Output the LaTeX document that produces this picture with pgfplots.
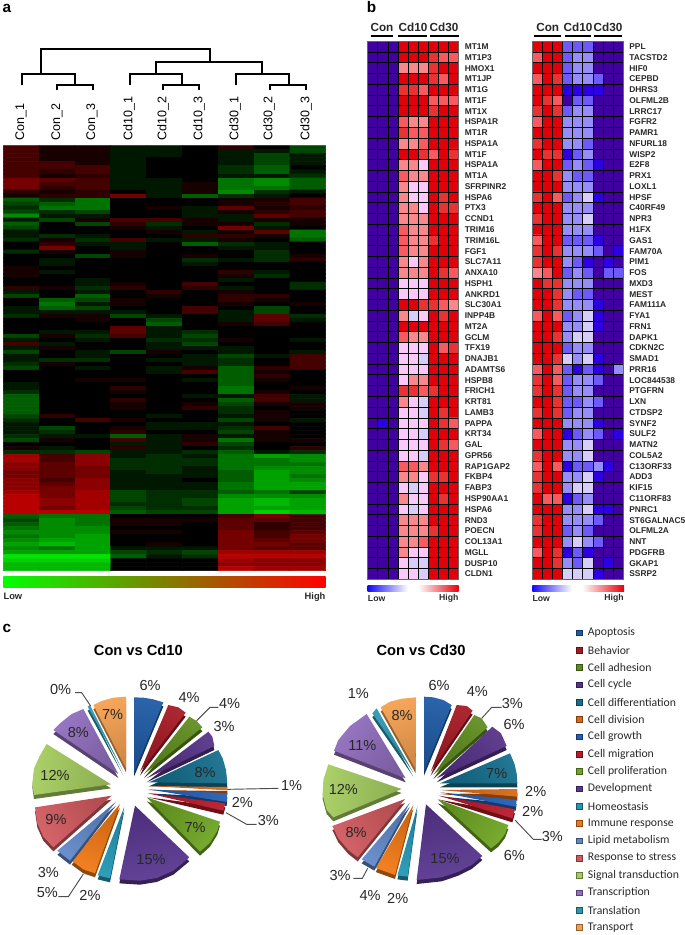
\documentclass[border=0pt]{standalone}
\usepackage{fontspec}
\setmainfont{Liberation Sans}
\newfontfamily\legfont{Carlito}
\usepackage{pgfplots}
\pgfplotsset{compat=1.18}
\definecolor{c1}{RGB}{30,90,165}
\definecolor{c2}{RGB}{165,25,35}
\definecolor{c3}{RGB}{95,140,30}
\definecolor{c4}{RGB}{85,50,135}
\definecolor{c5}{RGB}{20,110,140}
\definecolor{c6}{RGB}{215,105,25}
\definecolor{c7}{RGB}{35,95,180}
\definecolor{c8}{RGB}{185,25,40}
\definecolor{c9}{RGB}{110,165,35}
\definecolor{c10}{RGB}{90,55,145}
\definecolor{c11}{RGB}{35,150,180}
\definecolor{c12}{RGB}{240,120,20}
\definecolor{c13}{RGB}{95,135,200}
\definecolor{c14}{RGB}{210,90,95}
\definecolor{c15}{RGB}{165,205,95}
\definecolor{c16}{RGB}{145,110,190}
\definecolor{c17}{RGB}{45,150,175}
\definecolor{c18}{RGB}{245,160,80}
\definecolor{txt}{RGB}{40,40,40}
\pgfplotsset{
  colormap={gbr}{rgb255=(0,255,0) rgb255=(0,0,0) rgb255=(255,0,0)},
  colormap={bwr}{rgb255=(65,0,160) rgb255=(45,0,225) rgb255=(110,90,250) rgb255=(150,140,250) rgb255=(215,205,250)
    rgb255=(250,200,250) rgb255=(250,135,140) rgb255=(250,90,95) rgb255=(235,50,50) rgb255=(225,0,10)},
  pxaxis/.style={hide axis, scale only axis, y dir=reverse, clip=false, anchor=north west},
  genes/.style={scale only axis, y dir=reverse, anchor=north west, width=68.25pt, height=403.5pt,
    xmin=-0.5, xmax=8.5, ymin=-0.5, ymax=49.5, xtick={-0.5,0.5,...,8.5}, xticklabels={}, ytick={0,...,49}, yticklabel pos=right,
    minor ytick={-0.5,0.5,...,49.5}, xmajorgrids, yminorgrids,
    major grid style={black, line width=0.6pt}, minor grid style={black, line width=0.6pt}, axis on top,
    major tick length=0pt, minor tick length=0pt, axis line style={draw=black!60, line width=0.6pt}, colormap name=bwr,
    point meta min=0, point meta max=9,
    yticklabel style={font=\fontsize{6.3}{7}\selectfont\bfseries, text=txt, xshift=1pt}},
  genecells/.style={matrix plot*, mesh/cols=9, point meta=\thisrowno{0}},
}
\newcommand{\wedgeplot}[3]{%
  \addplot[draw=none, fill=#1!60!black, yshift=-3pt, forget plot] coordinates {#3};
  \addplot[draw=none, top color=#1!94!white, bottom color=#1!85!black, shading angle=#2, forget plot] coordinates {#3};
}
\newcommand{\pct}[3]{\node[font=\fontsize{10.9}{12}\selectfont, text=txt] at (axis cs:#1,#2) {#3\%};}
\newcommand{\leg}[3]{%
  \addplot[only marks, mark=square*, mark size=2.1pt, mark options={fill=#2, draw=#2!60!black}, forget plot] coordinates {(883,#1)};
  \node[anchor=west, text=txt, inner sep=0pt, font=\legfont\fontsize{8.8}{11}\selectfont] at (axis cs:908,#1) {#3};
}
\newcommand{\keyfont}{\fontsize{6.5}{8}\selectfont\bfseries}
\newcommand{\hdrfont}{\fontsize{8.8}{10}\selectfont\bfseries}
\newcommand{\sample}[2]{\node[rotate=90, anchor=west, inner sep=0pt, font=\fontsize{9.4}{11}\selectfont] at (axis cs:#1,141) {#2};}
\begin{document}
\begin{tikzpicture}
\useasboundingbox (0,0) rectangle (513.75pt,-701.25pt);

% base layer, in image pixels: dendrogram, labels
\begin{axis}[pxaxis, at={(0,0)}, width=513.75pt, height=701.25pt, xmin=0, xmax=685, ymin=0, ymax=935]
\addplot[black, line width=1.5pt, forget plot] coordinates {(22,85.3) (22,74) (75.3,74) (75.3,85.3)};
\addplot[black, line width=1.5pt, forget plot] coordinates {(57,90) (57,85.3) (92.7,85.3) (92.7,90)};
\addplot[black, line width=1.5pt, forget plot] coordinates {(41,74) (41,48.7) (210.3,48.7) (210.3,62)};
\addplot[black, line width=1.5pt, forget plot] coordinates {(155.7,74) (155.7,62) (262.3,62) (262.3,74)};
\addplot[black, line width=1.5pt, forget plot] coordinates {(129.7,85.3) (129.7,74) (181.7,74) (181.7,85.3)};
\addplot[black, line width=1.5pt, forget plot] coordinates {(163.3,90) (163.3,85.3) (199,85.3) (199,90)};
\addplot[black, line width=1.5pt, forget plot] coordinates {(235.7,85.3) (235.7,74) (288.7,74) (288.7,85.3)};
\addplot[black, line width=1.5pt, forget plot] coordinates {(270.3,90) (270.3,85.3) (306,85.3) (306,90)};
\sample{21}{Con\_1}\sample{57}{Con\_2}\sample{92}{Con\_3}
\sample{129}{Cd10\_1}\sample{163}{Cd10\_2}\sample{199}{Cd10\_3}
\sample{235}{Cd30\_1}\sample{269}{Cd30\_2}\sample{306}{Cd30\_3}
\node[font=\fontsize{11.5}{13}\selectfont\bfseries] at (axis cs:7,8) {a};
\node[font=\fontsize{11.5}{13}\selectfont\bfseries] at (axis cs:371.5,7) {b};
\node[font=\fontsize{11.5}{13}\selectfont\bfseries] at (axis cs:7,628) {c};
\node[anchor=west, text=txt, font=\fontsize{7}{8}\selectfont\bfseries, inner sep=0pt] at (axis cs:3.3,596.7) {Low};
\node[anchor=east, text=txt, font=\fontsize{7}{8}\selectfont\bfseries, inner sep=0pt] at (axis cs:325.7,596.7) {High};
% colour keys
\addplot[draw=none, left color={rgb,255:red,0;green,255;blue,0}, middle color={rgb,255:red,125;green,125;blue,0}, right color={rgb,255:red,255;green,0;blue,0}, forget plot] coordinates {(3.3,576.7) (325.7,576.7) (325.7,587.7) (3.3,587.7)};
\addplot[draw=none, left color={rgb,255:red,20;green,10;blue,250}, right color=white, forget plot] coordinates {(367.7,585) (408,585) (408,591.7) (367.7,591.7)};
\addplot[draw=none, left color=white, right color={rgb,255:red,230;green,0;blue,10}, forget plot] coordinates {(418,585) (458.7,585) (458.7,591.7) (418,591.7)};
\addplot[draw=none, left color={rgb,255:red,20;green,10;blue,250}, right color=white, forget plot] coordinates {(532.3,585) (572,585) (572,591.7) (532.3,591.7)};
\addplot[draw=none, left color=white, right color={rgb,255:red,230;green,0;blue,10}, forget plot] coordinates {(582,585) (624,585) (624,591.7) (582,591.7)};
\node[anchor=west, text=txt, font=\keyfont, inner sep=0pt] at (axis cs:367.7,598.7) {Low};
\node[anchor=east, text=txt, font=\keyfont, inner sep=0pt] at (axis cs:458.7,598.7) {High};
\node[anchor=west, text=txt, font=\keyfont, inner sep=0pt] at (axis cs:532.3,598.7) {Low};
\node[anchor=east, text=txt, font=\keyfont, inner sep=0pt] at (axis cs:624,598.7) {High};
% group headers of panel b
\addplot[black, line width=1.3pt, forget plot] coordinates {(370.7,36) (393.3,36)};
\addplot[black, line width=1.3pt, forget plot] coordinates {(398.3,36) (427.3,36)};
\addplot[black, line width=1.3pt, forget plot] coordinates {(430,36) (458.7,36)};
\addplot[black, line width=1.3pt, forget plot] coordinates {(534.3,36) (561,36)};
\addplot[black, line width=1.3pt, forget plot] coordinates {(565,36) (590.7,36)};
\addplot[black, line width=1.3pt, forget plot] coordinates {(594,36) (621.7,36)};
\node[font=\hdrfont, text=txt] at (axis cs:382,27.3) {Con};
\node[font=\hdrfont, text=txt] at (axis cs:413,27.3) {Cd10};
\node[font=\hdrfont, text=txt] at (axis cs:444,27.3) {Cd30};
\node[font=\hdrfont, text=txt] at (axis cs:547.7,27.3) {Con};
\node[font=\hdrfont, text=txt] at (axis cs:578,27.3) {Cd10};
\node[font=\hdrfont, text=txt] at (axis cs:608,27.3) {Cd30};
\end{axis}

% panel a heat map: one line per gene cluster row, values -9 (green) .. 9 (red)
\begin{axis}[pxaxis, at={(2.475pt,-109.275pt)}, width=241.8pt, height=318.7pt, xmin=-0.5, xmax=8.5, ymin=-0.5, ymax=105.5,
  colormap name=gbr, point meta min=-11, point meta max=11]
\addplot[matrix plot*, mesh/cols=9, point meta=\thisrowno{0}] table[row sep=crcr, header=false, x expr={mod(\coordindex,9)}, y expr={floor((\coordindex+0.5)/9)}] {
3\\1\\1\\-1\\-1\\0\\2\\0\\-3\\
3\\1\\1\\-1\\-1\\0\\-1\\-1\\-3\\
3\\1\\1\\-1\\-1\\0\\-1\\-3\\-1\\
3\\1\\1\\-1\\0\\0\\-1\\-3\\-1\\
3\\3\\1\\-1\\0\\0\\-1\\-3\\-1\\
3\\3\\3\\-1\\0\\0\\-2\\-4\\0\\
3\\2\\3\\-1\\0\\0\\-2\\-4\\-1\\
3\\1\\2\\-1\\0\\0\\-1\\-1\\-2\\
5\\4\\3\\-1\\-1\\0\\-5\\-6\\-4\\
5\\3\\3\\-1\\-1\\1\\-5\\-6\\-4\\
5\\2\\3\\-1\\-1\\1\\-5\\-5\\-4\\
2\\1\\2\\0\\-1\\1\\-6\\-2\\-1\\
1\\2\\2\\5\\-1\\-4\\-2\\-1\\0\\
-4\\-2\\-5\\0\\0\\0\\1\\1\\3\\
-3\\-4\\-5\\0\\0\\0\\1\\2\\3\\
-2\\-5\\-5\\0\\1\\-1\\4\\1\\2\\
-3\\-2\\-3\\0\\0\\-1\\1\\2\\3\\
-6\\-1\\-1\\0\\0\\-1\\-1\\4\\3\\
-1\\-3\\1\\3\\3\\1\\-1\\1\\1\\
-4\\0\\-3\\2\\-2\\1\\1\\-2\\1\\
-3\\0\\0\\1\\-1\\0\\5\\-1\\0\\
-1\\0\\0\\0\\1\\-1\\1\\4\\-5\\
-1\\-2\\-1\\0\\0\\2\\2\\1\\-5\\
-2\\1\\-2\\3\\-1\\-1\\1\\0\\-4\\
0\\2\\-1\\-1\\0\\-4\\-2\\-1\\0\\
0\\5\\0\\-1\\0\\0\\-1\\-1\\0\\
-2\\1\\0\\1\\0\\0\\0\\-2\\0\\
0\\0\\-3\\1\\0\\1\\0\\-2\\1\\
0\\-1\\0\\0\\0\\-2\\-1\\-2\\2\\
0\\-1\\0\\0\\0\\-1\\0\\0\\0\\
1\\0\\0\\0\\0\\0\\0\\0\\0\\
1\\-1\\0\\0\\0\\0\\2\\-1\\0\\
1\\0\\0\\0\\0\\0\\1\\-2\\0\\
0\\0\\-1\\0\\0\\0\\-1\\0\\0\\
0\\0\\-1\\1\\0\\3\\0\\0\\-2\\
2\\1\\-2\\2\\0\\2\\-1\\0\\-2\\
-1\\0\\-1\\0\\2\\0\\1\\0\\0\\
-3\\0\\-4\\0\\1\\0\\2\\2\\0\\
0\\-4\\-3\\1\\0\\0\\2\\1\\0\\
0\\-5\\-1\\1\\0\\0\\1\\0\\1\\
-1\\-4\\-3\\0\\0\\3\\0\\-3\\0\\
-1\\-1\\-1\\-1\\0\\3\\-1\\-3\\0\\
-2\\1\\1\\-3\\-1\\0\\-1\\4\\-2\\
0\\0\\1\\0\\-3\\0\\-1\\4\\-1\\
0\\0\\0\\0\\-4\\0\\1\\3\\0\\
0\\0\\0\\4\\-1\\0\\0\\0\\0\\
0\\-1\\-1\\4\\-1\\-2\\0\\0\\0\\
-3\\1\\-2\\3\\-1\\-3\\0\\0\\0\\
-1\\0\\-1\\0\\-2\\-2\\1\\0\\-1\\
3\\-1\\0\\0\\-1\\-3\\0\\0\\0\\
-1\\1\\0\\0\\-1\\-1\\-1\\0\\0\\
-3\\0\\-1\\-3\\1\\0\\-1\\0\\-1\\
-1\\0\\-1\\0\\0\\-1\\-3\\-1\\3\\
-1\\-2\\-2\\0\\-1\\-1\\-2\\0\\3\\
-2\\1\\0\\0\\0\\-1\\-2\\0\\3\\
-3\\0\\-1\\0\\-1\\1\\-4\\2\\3\\
0\\0\\0\\0\\-1\\3\\-4\\1\\0\\
0\\0\\0\\0\\0\\0\\-4\\2\\0\\
0\\0\\1\\1\\0\\-1\\-4\\1\\0\\
-1\\0\\0\\0\\0\\0\\-4\\0\\0\\
-1\\0\\0\\2\\0\\0\\-5\\0\\1\\
-2\\0\\0\\1\\0\\0\\-5\\1\\0\\
-4\\0\\0\\0\\0\\-1\\-1\\3\\-1\\
-4\\0\\0\\2\\0\\0\\-4\\3\\-1\\
-4\\0\\0\\1\\0\\1\\-3\\1\\1\\
-4\\0\\0\\1\\0\\2\\-2\\0\\1\\
-4\\0\\0\\0\\0\\0\\-2\\1\\0\\
-3\\2\\0\\0\\-1\\0\\-1\\1\\0\\
-2\\0\\3\\1\\0\\0\\-3\\1\\-1\\
-1\\0\\0\\0\\-1\\-1\\-1\\0\\0\\
-1\\-3\\0\\1\\-1\\-1\\-2\\3\\0\\
-1\\-2\\0\\2\\0\\0\\-3\\1\\0\\
-2\\-1\\-1\\-4\\-1\\1\\-1\\1\\0\\
-3\\1\\0\\3\\-1\\1\\-5\\1\\1\\
0\\0\\0\\-1\\-1\\2\\-3\\0\\0\\
1\\-1\\0\\2\\-1\\0\\-2\\0\\2\\
-2\\-2\\-3\\-1\\-1\\-2\\-4\\-1\\-2\\
7\\3\\6\\-1\\-2\\-1\\-5\\-7\\-6\\
7\\3\\6\\-2\\-2\\-2\\-5\\-5\\-6\\
6\\4\\6\\-2\\-2\\-2\\-5\\-5\\-5\\
6\\4\\5\\-2\\-2\\-1\\-5\\-6\\-6\\
5\\4\\5\\-1\\-2\\-1\\-4\\-7\\-6\\
5\\4\\5\\-1\\-1\\-1\\-4\\-7\\-5\\
6\\3\\6\\-1\\-1\\0\\-4\\-7\\-6\\
6\\4\\6\\-1\\-1\\-1\\-5\\-7\\-7\\
6\\5\\6\\-1\\-1\\-1\\-5\\-7\\-7\\
7\\5\\7\\-3\\-2\\-2\\-4\\-5\\-3\\
8\\5\\7\\-3\\-2\\-2\\-6\\-6\\-6\\
8\\6\\7\\-3\\-2\\-3\\-7\\-8\\-7\\
8\\6\\7\\-2\\-2\\-3\\-7\\-8\\-7\\
8\\5\\7\\-3\\-2\\-2\\-7\\-7\\-7\\
8\\8\\8\\-4\\-3\\-3\\-7\\-9\\-8\\
-4\\-5\\-5\\0\\0\\0\\3\\5\\3\\
-3\\-6\\-5\\1\\1\\1\\4\\4\\3\\
-4\\-6\\-5\\1\\1\\0\\4\\2\\3\\
-5\\-6\\-6\\0\\0\\0\\4\\2\\3\\
-6\\-6\\-6\\1\\1\\0\\5\\3\\4\\
-5\\-6\\-7\\0\\0\\0\\5\\3\\5\\
-6\\-7\\-7\\0\\0\\0\\5\\4\\5\\
-7\\-8\\-7\\0\\1\\0\\5\\5\\4\\
-6\\-5\\-7\\-1\\-1\\-1\\5\\4\\4\\
-7\\-7\\-7\\-3\\-2\\-3\\7\\7\\7\\
-10\\-10\\-10\\-4\\-1\\-2\\8\\8\\8\\
-9\\-9\\-9\\0\\0\\0\\7\\6\\6\\
-8\\-8\\-8\\0\\0\\0\\6\\6\\6\\
-8\\-8\\-8\\0\\0\\0\\8\\7\\7\\
};
\end{axis}

% panel b, left heat map
\begin{axis}[genes, at={(275.78pt,-30.98pt)},
  yticklabels={MT1M,MT1P3,HMOX1,MT1JP,MT1G,MT1F,MT1X,HSPA1R,MT1R,HSPA1A,MT1F,HSPA1A,MT1A,SFRPINR2,HSPA6,PTX3,CCND1,TRIM16,TRIM16L,FGF1,SLC7A11,ANXA10,HSPH1,ANKRD1,SLC30A1,INPP4B,MT2A,GCLM,TFX19,DNAJB1,ADAMTS6,HSPB8,FRICH1,KRT81,LAMB3,PAPPA,KRT34,GAL,GPR56,RAP1GAP2,FKBP4,FABP3,HSP90AA1,HSPA6,RND3,POECN,COL13A1,MGLL,DUSP10,CLDN1}]
\addplot[genecells] table[row sep=crcr, header=false, x expr={mod(\coordindex,9)}, y expr={floor((\coordindex+0.5)/9)}] {
0\\0\\0\\9\\9\\9\\9\\9\\9\\
0\\0\\0\\9\\9\\9\\8\\7\\7\\
0\\0\\0\\6\\6\\6\\8\\9\\9\\
0\\0\\0\\9\\9\\9\\8\\7\\9\\
0\\0\\0\\8\\8\\7\\9\\9\\9\\
0\\0\\0\\9\\9\\9\\7\\7\\7\\
0\\0\\0\\9\\9\\9\\8\\9\\9\\
0\\0\\0\\7\\6\\6\\9\\9\\9\\
0\\0\\0\\8\\7\\7\\9\\9\\9\\
0\\0\\0\\6\\6\\7\\9\\9\\9\\
0\\0\\0\\9\\9\\8\\7\\9\\8\\
0\\0\\0\\6\\6\\5\\9\\9\\9\\
0\\0\\0\\7\\6\\6\\9\\9\\9\\
0\\0\\0\\6\\5\\5\\9\\9\\9\\
0\\0\\0\\6\\5\\5\\9\\8\\9\\
0\\0\\0\\6\\6\\5\\9\\8\\8\\
0\\0\\0\\6\\6\\6\\9\\9\\9\\
0\\0\\0\\7\\6\\6\\9\\9\\9\\
0\\0\\0\\7\\6\\6\\8\\9\\9\\
0\\0\\0\\7\\6\\6\\9\\9\\9\\
0\\0\\0\\6\\5\\6\\9\\9\\9\\
0\\0\\0\\6\\6\\6\\9\\8\\7\\
0\\0\\0\\5\\5\\5\\9\\9\\9\\
0\\0\\0\\5\\5\\5\\9\\9\\9\\
0\\0\\0\\9\\9\\8\\8\\7\\6\\
0\\0\\0\\6\\4\\5\\9\\8\\9\\
0\\0\\0\\9\\9\\9\\9\\9\\9\\
0\\0\\0\\7\\6\\6\\9\\9\\9\\
0\\0\\0\\5\\5\\5\\9\\7\\8\\
0\\0\\0\\5\\5\\4\\9\\9\\9\\
0\\0\\0\\5\\5\\5\\9\\9\\9\\
0\\0\\0\\5\\6\\6\\9\\9\\9\\
0\\0\\0\\8\\8\\7\\8\\9\\9\\
0\\0\\0\\6\\5\\4\\9\\9\\9\\
0\\0\\0\\5\\5\\4\\9\\8\\9\\
0\\1\\0\\5\\5\\5\\9\\8\\7\\
0\\0\\0\\5\\5\\4\\9\\9\\9\\
0\\0\\0\\5\\5\\5\\9\\8\\7\\
0\\0\\0\\5\\5\\4\\9\\9\\9\\
0\\0\\0\\7\\7\\6\\9\\9\\9\\
0\\0\\0\\6\\6\\5\\8\\8\\9\\
0\\0\\0\\5\\4\\5\\9\\9\\9\\
0\\0\\0\\6\\5\\5\\9\\8\\9\\
0\\0\\0\\5\\4\\5\\9\\9\\9\\
0\\0\\0\\6\\6\\6\\9\\9\\9\\
0\\0\\0\\6\\6\\6\\8\\9\\9\\
0\\0\\0\\6\\6\\7\\9\\9\\9\\
0\\0\\0\\6\\5\\5\\9\\9\\9\\
0\\0\\0\\5\\4\\4\\9\\9\\9\\
0\\0\\0\\5\\5\\4\\9\\9\\9\\
};
\end{axis}

% panel b, right heat map
\begin{axis}[genes, at={(399.23pt,-30.98pt)},
  yticklabels={PPL,TACSTD2,HIF0,CEPBD,DHRS3,OLFML2B,LRRC17,FGFR2,PAMR1,NFURL18,WISP2,E2F8,PRX1,LOXL1,HPSF,C40RF49,NPR3,H1FX,GAS1,FAM70A,PIM1,FOS,MXD3,MEST,FAM111A,FYA1,FRN1,DAPK1,CDKN2C,SMAD1,PRR16,LOC844538,PTGFRN,LXN,CTDSP2,SYNF2,SULF2,MATN2,COL5A2,C13ORF33,ADD3,KIF15,C11ORF83,PNRC1,ST6GALNAC5,OLFML2A,NNT,PDGFRB,GKAP1,SSRP2}]
\addplot[genecells] table[row sep=crcr, header=false, x expr={mod(\coordindex,9)}, y expr={floor((\coordindex+0.5)/9)}] {
9\\9\\9\\2\\2\\2\\0\\0\\0\\
7\\9\\9\\2\\3\\3\\0\\0\\0\\
9\\9\\9\\2\\3\\3\\0\\0\\0\\
7\\9\\8\\2\\3\\3\\2\\0\\0\\
9\\9\\9\\1\\1\\1\\1\\0\\0\\
9\\8\\7\\0\\2\\2\\0\\0\\0\\
8\\9\\8\\2\\3\\3\\0\\0\\0\\
7\\9\\9\\3\\3\\3\\0\\0\\0\\
9\\9\\9\\3\\3\\3\\0\\0\\0\\
8\\9\\9\\3\\3\\2\\0\\0\\0\\
9\\8\\8\\1\\2\\3\\0\\0\\0\\
7\\9\\9\\2\\3\\2\\1\\0\\0\\
9\\9\\8\\3\\2\\2\\0\\0\\0\\
9\\9\\9\\3\\3\\3\\0\\0\\0\\
8\\9\\7\\2\\3\\4\\1\\0\\0\\
9\\9\\9\\3\\3\\3\\0\\0\\0\\
8\\9\\9\\3\\3\\4\\0\\0\\0\\
9\\9\\9\\3\\3\\3\\0\\0\\0\\
7\\9\\9\\2\\2\\2\\1\\0\\0\\
8\\9\\8\\3\\3\\3\\2\\0\\1\\
8\\9\\9\\3\\2\\1\\0\\1\\0\\
6\\7\\9\\2\\3\\2\\0\\2\\2\\
9\\8\\8\\3\\3\\3\\0\\0\\0\\
9\\9\\8\\3\\2\\2\\0\\0\\0\\
9\\9\\8\\3\\3\\3\\1\\0\\0\\
7\\9\\7\\2\\3\\4\\1\\0\\0\\
9\\9\\9\\3\\3\\4\\1\\0\\0\\
9\\9\\8\\3\\4\\4\\0\\0\\0\\
9\\9\\9\\2\\3\\3\\0\\0\\0\\
9\\9\\8\\4\\3\\4\\1\\0\\0\\
7\\9\\7\\2\\1\\2\\1\\0\\3\\
8\\9\\7\\2\\3\\3\\2\\0\\0\\
8\\9\\8\\2\\3\\3\\0\\0\\0\\
9\\9\\8\\2\\2\\3\\2\\0\\0\\
8\\9\\8\\2\\3\\3\\0\\0\\0\\
9\\9\\9\\3\\3\\3\\1\\0\\0\\
7\\9\\9\\1\\2\\3\\2\\0\\1\\
9\\9\\9\\3\\3\\4\\0\\0\\0\\
8\\9\\9\\3\\3\\4\\0\\0\\0\\
7\\9\\7\\1\\2\\2\\3\\1\\0\\
8\\9\\9\\3\\3\\4\\1\\0\\0\\
8\\9\\9\\3\\4\\4\\0\\0\\0\\
9\\7\\7\\1\\2\\3\\0\\0\\0\\
9\\9\\9\\3\\3\\4\\1\\1\\0\\
8\\9\\9\\3\\3\\3\\2\\0\\0\\
8\\9\\9\\2\\3\\2\\0\\0\\0\\
9\\9\\9\\3\\4\\3\\2\\0\\0\\
7\\9\\8\\1\\2\\1\\0\\0\\0\\
9\\9\\8\\3\\2\\4\\0\\1\\0\\
9\\9\\9\\4\\4\\4\\1\\0\\0\\
};
\end{axis}

% panel c, first pie (units: 1/3 px)
\begin{axis}[pxaxis, at={(0pt,-465pt)}, width=217.5pt, height=236.25pt, xmin=0, xmax=870, ymin=0, ymax=945]
\wedgeplot{c1}{-10}{(402,458) (402,232) (430,233) (460,238) (490,247)}
\wedgeplot{c2}{-25}{(420,455) (505,255) (535,262) (557,278)}
\wedgeplot{c3}{-40}{(432,462) (568,290) (590,303) (607,322)}
\wedgeplot{c4}{-55}{(440,475) (625,335) (637,350) (643,378)}
\wedgeplot{c5}{-70}{(447,487) (655,390) (668,415) (678,450) (682,490)}
\wedgeplot{c6}{-90}{(445,498) (682,501) (682,511)}
\wedgeplot{c7}{-95}{(445,508) (682,520) (680,546)}
\wedgeplot{c8}{-105}{(445,520) (676,550) (670,572)}
\wedgeplot{c9}{-125}{(440,532) (660,605) (652,632) (630,668) (600,695)}
\wedgeplot{c10}{-170}{(405,557) (568,712) (520,752) (470,774) (420,782) (358,778)}
\wedgeplot{c11}{-190}{(373,560) (330,775) (293,766)}
\wedgeplot{c12}{-205}{(360,552) (285,760) (250,748) (215,722)}
\wedgeplot{c13}{-220}{(348,545) (210,722) (172,692)}
\wedgeplot{c14}{-240}{(335,527) (160,682) (130,650) (112,610) (105,562)}
\wedgeplot{c15}{-275}{(333,493) (102,525) (97,490) (102,445) (118,410) (140,372)}
\wedgeplot{c16}{-310}{(355,462) (160,330) (180,310) (215,282) (250,267)}
\wedgeplot{c17}{-330}{(370,455) (263,260) (270,255)}
\wedgeplot{c18}{-345}{(378,445) (280,255) (305,243) (340,233) (378,230)}
\addplot[black!70, line width=0.7pt, forget plot] coordinates {(225,218) (245,218) (272,258)};
\addplot[black!70, line width=0.7pt, forget plot] coordinates {(655,262) (630,262) (590,302)};
\addplot[black!70, line width=0.7pt, forget plot] coordinates {(835,505) (682,508)};
\addplot[black!70, line width=0.7pt, forget plot] coordinates {(770,613) (740,613) (678,578)};
\addplot[black!70, line width=0.7pt, forget plot] coordinates {(175,830) (205,830) (250,762)};
\node[font=\fontsize{11}{13}\selectfont\bfseries] at (axis cs:415,90) {Con vs Cd10};
\pct{450}{197}{6}\pct{567}{231}{4}\pct{689}{250}{4}\pct{672}{318}{3}\pct{615}{456}{8}\pct{875}{495}{1}
\pct{727}{548}{2}\pct{805}{600}{3}\pct{585}{622}{7}\pct{453}{720}{15}\pct{270}{827}{2}\pct{142}{817}{5}
\pct{145}{757}{3}\pct{168}{597}{9}\pct{165}{465}{12}\pct{235}{338}{8}\pct{182}{207}{0}\pct{338}{284}{7}
\end{axis}

% second pie and the legend (units: 1/3 px)
\begin{axis}[pxaxis, at={(213.75pt,-465pt)}, width=300pt, height=236.25pt, xmin=0, xmax=1200, ymin=0, ymax=945]
\wedgeplot{c1}{-10}{(417,455) (417,230) (445,232) (475,240) (500,255)}
\wedgeplot{c2}{-25}{(437,455) (515,255) (545,258) (563,272)}
\wedgeplot{c3}{-35}{(445,465) (568,285) (590,295) (608,322)}
\wedgeplot{c4}{-50}{(455,475) (622,320) (648,340) (665,378)}
\wedgeplot{c5}{-70}{(465,490) (675,400) (688,430) (695,460) (697,490)}
\wedgeplot{c6}{-90}{(465,510) (697,507) (697,530)}
\wedgeplot{c7}{-95}{(465,517) (695,540) (692,560)}
\wedgeplot{c8}{-105}{(462,527) (690,568) (682,595)}
\wedgeplot{c9}{-125}{(458,538) (670,615) (660,642) (640,668) (618,685)}
\wedgeplot{c10}{-170}{(423,553) (592,708) (560,735) (520,755) (470,772) (395,780)}
\wedgeplot{c11}{-190}{(397,560) (368,770) (337,766)}
\wedgeplot{c12}{-205}{(385,555) (330,765) (272,744)}
\wedgeplot{c13}{-220}{(375,548) (268,740) (230,718)}
\wedgeplot{c14}{-240}{(360,537) (218,712) (190,690) (160,655) (142,618)}
\wedgeplot{c15}{-275}{(350,507) (145,592) (125,570) (113,525) (115,480) (130,433)}
\wedgeplot{c16}{-310}{(362,475) (147,392) (160,360) (195,318) (245,282)}
\wedgeplot{c17}{-330}{(385,458) (262,280) (275,265)}
\wedgeplot{c18}{-345}{(392,448) (287,262) (315,245) (350,236) (393,232)}
\addplot[black!70, line width=0.7pt, forget plot] coordinates {(650,262) (620,262) (590,295)};
\addplot[black!70, line width=0.7pt, forget plot] coordinates {(770,658) (745,658) (690,600)};
\addplot[black!70, line width=0.7pt, forget plot] coordinates {(205,775) (232,775) (248,745)};
\node[font=\fontsize{11}{13}\selectfont\bfseries] at (axis cs:408,90) {Con vs Cd30};
\pct{462}{195}{6}\pct{577}{213}{4}\pct{682}{250}{3}\pct{687}{312}{6}\pct{635}{460}{7}\pct{752}{515}{2}
\pct{743}{575}{2}\pct{802}{648}{3}\pct{688}{705}{6}\pct{480}{716}{15}\pct{338}{835}{2}\pct{255}{825}{4}
\pct{165}{767}{3}\pct{213}{636}{8}\pct{175}{508}{12}\pct{232}{376}{11}\pct{220}{220}{1}\pct{351}{285}{8}
\leg{38}{c1}{Apoptosis}\leg{90}{c2}{Behavior}\leg{142}{c3}{Cell adhesion}\leg{194}{c4}{Cell cycle}
\leg{246}{c5}{Cell differentiation}\leg{298}{c6}{Cell division}\leg{350}{c7}{Cell growth}\leg{402}{c8}{Cell migration}
\leg{454}{c9}{Cell proliferation}\leg{506}{c10}{Development}\leg{558}{c11}{Homeostasis}\leg{610}{c12}{Immune response}
\leg{662}{c13}{Lipid metabolism}\leg{714}{c14}{Response to stress}\leg{766}{c15}{Signal transduction}\leg{818}{c16}{Transcription}
\leg{870}{c17}{Translation}\leg{922}{c18}{Transport}
\end{axis}
\end{tikzpicture}
\end{document}
